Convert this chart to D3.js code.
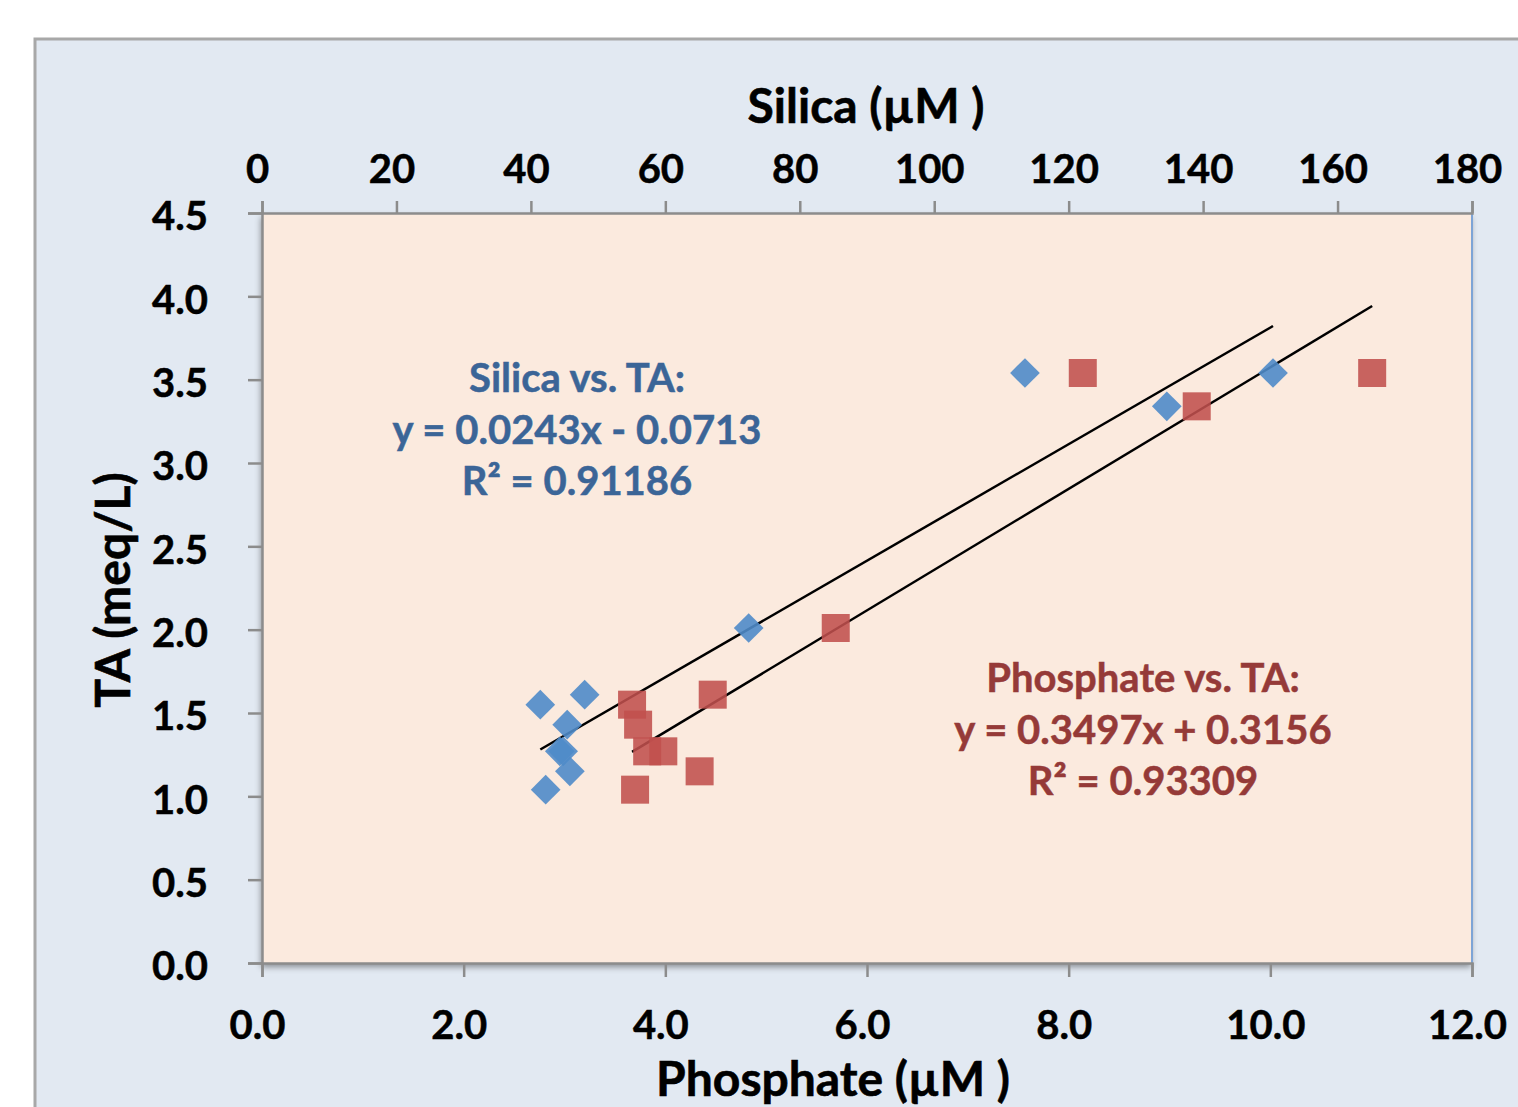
<!DOCTYPE html>
<html>
<head>
<meta charset="utf-8">
<script src="https://cdn.jsdelivr.net/npm/d3@7"></script>
<style>
  body { margin: 0; background: #ffffff; }
  text { font-family: Lato, "Open Sans", sans-serif; font-weight: 700; }
</style>
</head>
<body>
<svg id="chart1"></svg>
<script>
var w = 1518;
var h = 1107;

// data
let ta = [1.55, 1.61, 1.43, 1.27, 1.27, 1.15, 1.04, 2.01, 3.54, 3.34, 3.54];
let silica = [41.4, 48.0, 45.4, 44.3, 44.8, 45.8, 42.2, 72.4, 113.5, 134.6, 150.4];
let phosphate = [3.67, 4.47, 3.73, 3.82, 3.98, 4.34, 3.70, 5.69, 8.14, 9.27, 11.01];
let phosTicks = [0, 2, 4, 6, 8, 10, 12];
let silicaTicks = [0, 20, 40, 60, 80, 100, 120, 140, 160, 180];
let taTicks = [0, 0.5, 1, 1.5, 2, 2.5, 3, 3.5, 4, 4.5];
// trendline coefficients as printed on the chart
let silicaFit = { slope: 0.0243, icpt: -0.0713 };
let phosFit = { slope: 0.3497, icpt: 0.3156 };
let silicaLabel = ["Silica vs. TA:", "y = 0.0243x - 0.0713", "R² = 0.91186"];
let phosLabel = ["Phosphate vs. TA:", "y = 0.3497x + 0.3156", "R² = 0.93309"];

var plot = { left: 262, top: 213, right: 1472, bottom: 963 };

var svg = d3.select("#chart1")
    .attr("width", w)
    .attr("height", h);

var defs = svg.append("defs");
var shadow = defs.append("filter")
    .attr("id", "shadow")
    .attr("x", "-5%").attr("y", "-5%")
    .attr("width", "110%").attr("height", "110%");
shadow.append("feDropShadow")
    .attr("dx", -1).attr("dy", 4)
    .attr("stdDeviation", 3)
    .attr("flood-color", "#000")
    .attr("flood-opacity", 0.4);

// outer chart area
svg.append("rect")
    .attr("x", 35).attr("y", 39)
    .attr("width", w).attr("height", h)
    .attr("fill", "#e2e9f2")
    .attr("stroke", "#a8a8a8")
    .attr("stroke-width", 3);

var x = d3.scaleLinear().domain([0, 12]).range([plot.left, plot.right]);
var xTop = d3.scaleLinear().domain([0, 180]).range([plot.left, plot.right]);
var y = d3.scaleLinear().domain([0, 4.5]).range([plot.bottom, plot.top]);

// plot area
svg.append("rect")
    .attr("x", plot.left).attr("y", plot.top)
    .attr("width", plot.right - plot.left)
    .attr("height", plot.bottom - plot.top)
    .attr("fill", "#fbeade")
    .attr("filter", "url(#shadow)");
svg.append("line")
    .attr("x1", plot.right).attr("x2", plot.right)
    .attr("y1", plot.top).attr("y2", plot.bottom)
    .attr("stroke", "#7da4d6")
    .attr("stroke-width", 2);

// axes
function styleAxis(g) {
    g.select(".domain").attr("stroke", "#8c8c8c").attr("stroke-width", 2.5);
    g.selectAll(".tick line").attr("stroke", "#8c8c8c").attr("stroke-width", 2.5);
    g.selectAll(".tick text").attr("fill", "#000").attr("font-size", 40)
        .attr("stroke", "#000").attr("stroke-width", 0.5);
}
svg.append("g")
    .attr("transform", `translate(0,${plot.bottom})`)
    .call(d3.axisBottom(x).tickValues(phosTicks).tickFormat(d3.format(".1f"))
        .tickSize(14).tickPadding(34).tickSizeOuter(14))
    .call(styleAxis)
    .call(g => g.selectAll(".tick text").attr("dx", -5));
svg.append("g")
    .attr("transform", `translate(0,${plot.top})`)
    .call(d3.axisTop(xTop).tickValues(silicaTicks).tickFormat(d3.format("d"))
        .tickSize(12).tickPadding(18).tickSizeOuter(12))
    .call(styleAxis)
    .call(g => g.selectAll(".tick text").attr("dx", -5));
svg.append("g")
    .attr("transform", `translate(${plot.left},0)`)
    .call(d3.axisLeft(y).tickValues(taTicks).tickFormat(d3.format(".1f"))
        .tickSize(14).tickPadding(40).tickSizeOuter(14))
    .call(styleAxis)
    .call(g => g.selectAll(".tick text").attr("dy", "0.42em"));

// axis titles
function title(txt) {
    return svg.append("text")
        .attr("text-anchor", "middle")
        .attr("font-size", 48)
        .attr("stroke", "#000").attr("stroke-width", 0.6)
        .text(txt);
}
title("Silica (µM )").attr("x", 866).attr("y", 123);
title("Phosphate (µM )").attr("x", 833).attr("y", 1096);
title("TA (meq/L)").attr("transform", "translate(130,590) rotate(-90)");

// trendlines: each equation is drawn over the x-range of the other series
var upper = d3.extent(silica).map(s => x.invert(xTop(s)));
var lower = d3.extent(phosphate).map(p => xTop.invert(x(p)));
svg.append("line")
    .attr("x1", x(upper[0])).attr("y1", y(phosFit.slope * upper[0] + phosFit.icpt))
    .attr("x2", x(upper[1])).attr("y2", y(phosFit.slope * upper[1] + phosFit.icpt))
    .attr("stroke", "#000").attr("stroke-width", 2.5);
svg.append("line")
    .attr("x1", xTop(lower[0])).attr("y1", y(silicaFit.slope * lower[0] + silicaFit.icpt))
    .attr("x2", xTop(lower[1])).attr("y2", y(silicaFit.slope * lower[1] + silicaFit.icpt))
    .attr("stroke", "#000").attr("stroke-width", 2.5);

// markers
var sq = 28;
svg.append("g").selectAll("rect")
    .data(phosphate)
    .enter()
    .append("rect")
    .attr("x", (d, i) => x(d) - sq / 2)
    .attr("y", (d, i) => y(ta[i]) - sq / 2)
    .attr("width", sq).attr("height", sq)
    .attr("fill", "#c0504d")
    .attr("fill-opacity", 0.88);
var dm = 21;
svg.append("g").selectAll("rect")
    .data(silica)
    .enter()
    .append("rect")
    .attr("x", -dm / 2).attr("y", -dm / 2)
    .attr("width", dm).attr("height", dm)
    .attr("transform", (d, i) => `translate(${xTop(d)},${y(ta[i])}) rotate(45)`)
    .attr("fill", "#4f8bc9")
    .attr("fill-opacity", 0.9);

// equation labels
function eqLabel(lines, cx, cy, col) {
    svg.append("text")
        .attr("text-anchor", "middle")
        .attr("font-size", 40)
        .attr("fill", col)
        .attr("stroke", col).attr("stroke-width", 0.5)
        .selectAll("tspan")
        .data(lines)
        .enter()
        .append("tspan")
        .attr("x", cx)
        .attr("y", (d, i) => cy + i * 51.5)
        .text(d => d);
}
eqLabel(silicaLabel, 577, 392, "#3b6597");
eqLabel(phosLabel, 1143, 692, "#953a38");
</script>
</body>
</html>
